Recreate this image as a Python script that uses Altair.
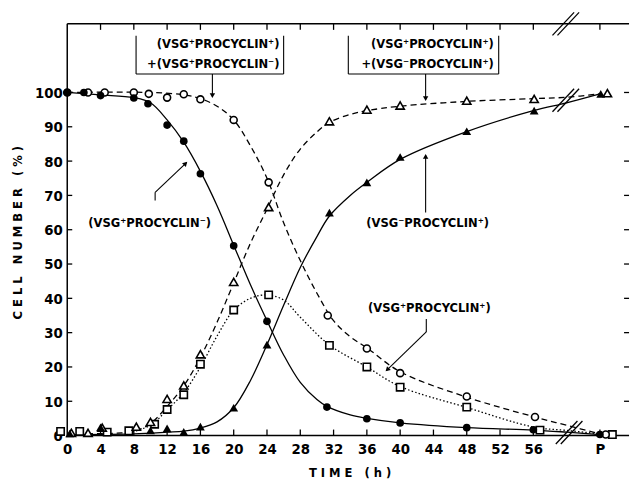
import altair as alt
import pandas as pd

# ---------------- data ----------------
# markers: time (h) and cell number (%)
fc_t = [0, 2, 4, 8, 9.7, 12, 14, 16, 20, 24, 31.2, 36, 40, 48, 56, 64]          # (VSG+ PROCYCLIN-) filled circles
fc_v = [100, 100, 99.1, 98.4, 96.7, 90.5, 85.8, 76.3, 55.3, 33.3, 8.3, 4.9, 3.7, 2.3, 1.7, 0.3]

oc_t = [0, 2.5, 4.5, 8, 9.8, 12, 14, 16, 20, 24.2, 31.3, 36, 40, 48, 56.2, 64.7]  # (VSG+P+)+(VSG+P-) open circles
oc_v = [100, 100, 100, 100, 99.6, 98.5, 99.5, 98.0, 92.0, 73.8, 35.0, 25.4, 18.2, 11.4, 5.4, 0.3]

ot_t = [0.5, 2.5, 4.2, 8.3, 10, 12, 14, 16, 20, 24.2, 31.5, 36, 40, 48, 56.1, 64.9]  # (VSG+P+)+(VSG-P+) open triangles
ot_v = [0.8, 0.8, 2.3, 2.6, 4.0, 10.7, 14.6, 23.7, 44.8, 66.6, 91.6, 95.0, 96.2, 97.6, 98.1, 99.8]

ft_t = [0.3, 4, 10, 12, 14, 16, 20, 24, 31.5, 36, 40, 48, 56.1, 64.1]            # (VSG- PROCYCLIN+) filled triangles
ft_v = [0.6, 2.4, 1.5, 2.1, 1.1, 2.6, 8.1, 26.5, 65.0, 73.8, 81.2, 88.7, 94.7, 99.6]

os_t = [-0.8, 1.5, 4.8, 7.4, 10.5, 12, 14, 16, 20, 24.2, 31.5, 36, 40, 48, 56.8, 65.5]  # (VSG+ PROCYCLIN+) open squares
os_v = [1.2, 1.2, 1.0, 1.4, 3.3, 7.6, 11.9, 20.8, 36.6, 41.0, 26.3, 20.0, 14.1, 8.3, 1.6, 0.3]

# drawn (hand-fitted) curves
fc_curve_t = [0, 4, 8, 10, 12, 14, 16, 18, 20, 22, 24, 26, 28, 30, 31.2, 34, 36, 40, 48, 56, 60, 64]
fc_curve_v = [100, 99.3, 98.5, 97.0, 92.0, 85.5, 77.0, 67.0, 55.5, 44.0, 33.5, 23.5, 15.5, 10.5, 8.5, 6.0, 5.0, 3.7, 2.3, 1.6, 1.0, 0.3]

ft_curve_t = [0, 8, 12, 14, 16, 18, 20, 22, 24, 26, 28, 30, 31.5, 34, 36, 40, 48, 56, 60, 64]
ft_curve_v = [0.3, 0.5, 1.0, 1.3, 2.2, 4.0, 8.1, 16.0, 26.5, 38.0, 49.0, 58.0, 64.0, 70.0, 73.8, 80.5, 88.6, 94.7, 97.0, 99.6]

oc_curve_t = [0, 10, 14, 16, 18, 20, 22, 24, 26, 28, 30, 32, 34, 36, 40, 48, 56.2, 60, 64]
oc_curve_v = [100, 100, 99.3, 98.2, 96.0, 92.0, 84.5, 75.0, 62.0, 51.0, 41.5, 33.5, 28.8, 25.6, 18.6, 11.2, 5.4, 3.0, 0.5]

ot_curve_t = [0, 6, 8, 10, 12, 14, 16, 18, 20, 22, 24, 26, 28, 30, 31.5, 34, 36, 40, 48, 56, 60, 64]
ot_curve_v = [0.5, 0.7, 1.2, 3.5, 8.5, 14.5, 22.8, 33.0, 44.5, 56.0, 66.0, 76.0, 83.5, 88.5, 91.3, 93.6, 94.7, 96.0, 97.4, 98.2, 98.6, 99.6]

os_curve_t = [7, 10, 12, 14, 16, 18, 20, 22, 24, 26, 28, 31.5, 36, 40, 48, 56, 60, 64]
os_curve_v = [0.6, 3.0, 7.5, 12.5, 20.0, 29.0, 36.5, 40.0, 41.0, 39.5, 34.5, 26.4, 20.0, 14.3, 8.2, 2.5, 1.5, 0.5]

# axes
x_ticks = [0, 4, 8, 12, 16, 20, 24, 28, 32, 36, 40, 44, 48, 52, 56, 64]   # 64 is shown as "P"
y_ticks = [0, 10, 20, 30, 40, 50, 60, 70, 80, 90, 100]
X_MAX, Y_MAX = 67.5, 120

# annotation texts (time, value, text)
box_text_t = [25.5, 25.5, 51.25, 51.25]
box_text_v = [114.0, 108.2, 114.0, 108.2]
box_text_s = ["(VSG⁺PROCYCLIN⁺)", "+(VSG⁺PROCYCLIN⁻)", "(VSG⁺PROCYCLIN⁺)", "+(VSG⁻PROCYCLIN⁺)"]

lab_t = [9.9, 43.3, 43.5]
lab_v = [61.8, 61.8, 37.3]
lab_s = ["(VSG⁺PROCYCLIN⁻)", "(VSG⁻PROCYCLIN⁺)", "(VSG⁺PROCYCLIN⁺)"]

# connector segments (x, y, x2, y2) in data units
seg_x = [8.27, 26.0, 8.27, 17.44, 33.77, 51.84, 33.77, 43.06, 10.56, 10.56, 43.06, 43.14, 43.14]
seg_y = [116.5, 116.5, 105.4, 105.4, 116.5, 116.5, 105.4, 105.4, 68.5, 70.9, 65.0, 34.0, 30.2]
seg_x2 = [8.27, 26.0, 26.0, 17.44, 33.77, 51.84, 51.84, 43.06, 10.56, 14.3, 43.06, 43.14, 38.4]
seg_y2 = [105.4, 105.4, 105.4, 98.8, 105.4, 105.4, 105.4, 97.9, 70.9, 79.5, 81.8, 30.2, 19.1]

# arrow heads (position, rotation)
head_t = [17.44, 43.06, 43.06, 14.22, 38.45]
head_v = [99.1, 98.2, 81.4, 79.3, 19.2]
head_a = [180, 180, 0, 45, 225]

# axis-break marks "//" (centre time, centre value)
brk_t = [59.9, 59.9, 60.3]
brk_v = [120.0, 97.75, 0.9]

# ---------------- chart ----------------
W, H = 569, 417
FONT = "DejaVu Sans Condensed, DejaVu Sans, sans-serif"
NB = "\u00a0"

x_title = NB.join("TIME") + NB * 3 + NB.join("(h)")
y_title = NB.join("CELL") + NB * 3 + NB.join("NUMBER") + NB * 3 + NB.join("(%)")

x_axis = alt.Axis(values=x_ticks, labelExpr="datum.value == 64 ? 'P' : datum.label",
                  title=x_title, domain=False, ticks=False, grid=False,
                  labelPadding=6, labelFont=FONT, labelFontSize=15, labelFontWeight="bold",
                  labelColor="black", titleFont=FONT, titleFontSize=13, titleFontWeight="bold",
                  titleColor="black", titleX=286, titleY=37, titleBaseline="middle", labelFlush=False)
y_axis = alt.Axis(values=y_ticks, title=y_title, domain=False, ticks=False,
                  grid=False, labelPadding=5, labelFont=FONT, labelFontSize=15, labelFontWeight="bold",
                  labelColor="black", titleFont=FONT, titleFontSize=13, titleFontWeight="bold",
                  titleColor="black", titleX=-50, titleY=211, titleBaseline="middle", labelFlush=False)


def X(f="t"):
    return alt.X(f"{f}:Q", scale=xs, axis=x_axis)


def Y(f="v"):
    return alt.Y(f"{f}:Q", scale=ys, axis=y_axis)


xs = alt.Scale(domain=[0, X_MAX], nice=False, zero=False)
ys = alt.Scale(domain=[0, Y_MAX], nice=False, zero=False)

layers = []

# frame lines
frame = pd.DataFrame({"x": [0, 0, 0], "x2": [X_MAX, 0, X_MAX], "y": [0, 0, Y_MAX], "y2": [0, Y_MAX, Y_MAX]})
layers.append(alt.Chart(frame).mark_rule(color="black", strokeWidth=1.5).encode(
    x=X("x"), x2="x2:Q", y=Y("y"), y2="y2:Q"))

# inward ticks
tx = [t for t in x_ticks if t > 0]
ty = [v for v in y_ticks if v > 0]
tick_rows = []
for t in tx:
    tick_rows.append({"x": t, "x2": t, "y": 0, "y2": 1.75})
    tick_rows.append({"x": t, "x2": t, "y": Y_MAX, "y2": Y_MAX - 1.75})
for v in ty:
    tick_rows.append({"x": 0, "x2": 0.6, "y": v, "y2": v})
    tick_rows.append({"x": X_MAX, "x2": X_MAX - 0.6, "y": v, "y2": v})
layers.append(alt.Chart(pd.DataFrame(tick_rows)).mark_rule(color="black", strokeWidth=1.3).encode(
    x=X("x"), x2="x2:Q", y=Y("y"), y2="y2:Q"))

# curves
curve_specs = [
    (fc_curve_t, fc_curve_v, None),
    (ft_curve_t, ft_curve_v, None),
    (oc_curve_t, oc_curve_v, [6, 4]),
    (ot_curve_t, ot_curve_v, [6, 4]),
    (os_curve_t, os_curve_v, [1.5, 2.2]),
]
for ct, cv, dash in curve_specs:
    kw = dict(color="black", strokeWidth=1.3, interpolate="catmull-rom")
    if dash is not None:
        kw["strokeDash"] = dash
    layers.append(alt.Chart(pd.DataFrame({"t": ct, "v": cv})).mark_line(**kw).encode(x=X(), y=Y()))

# break marks
brk_rows = []
for bt, bv in zip(brk_t, brk_v):
    for off in (-0.3, 0.3):
        brk_rows.append({"x": bt + off - 1.3, "y": bv - 3.35, "x2": bt + off + 1.3, "y2": bv + 3.35})
layers.append(alt.Chart(pd.DataFrame(brk_rows)).mark_rule(color="black", strokeWidth=1.3).encode(
    x=X("x"), x2="x2:Q", y=Y("y"), y2="y2:Q"))

# connectors
seg = pd.DataFrame({"x": seg_x, "y": seg_y, "x2": seg_x2, "y2": seg_y2})
layers.append(alt.Chart(seg).mark_rule(color="black", strokeWidth=1.1).encode(
    x=X("x"), x2="x2:Q", y=Y("y"), y2="y2:Q"))

heads = pd.DataFrame({"t": head_t, "v": head_v, "a": head_a})
layers.append(alt.Chart(heads).mark_point(shape="triangle-up", filled=True, color="black", size=30, opacity=1).encode(
    x=X(), y=Y(), angle=alt.Angle("a:Q", scale=None)))

# texts
layers.append(alt.Chart(pd.DataFrame({"t": box_text_t, "v": box_text_v, "s": box_text_s})).mark_text(
    font=FONT, fontSize=13, fontWeight="bold", align="right", baseline="middle", color="black").encode(
    x=X(), y=Y(), text="s:N"))
layers.append(alt.Chart(pd.DataFrame({"t": lab_t, "v": lab_v, "s": lab_s})).mark_text(
    font=FONT, fontSize=13, fontWeight="bold", align="center", baseline="middle", color="black").encode(
    x=X(), y=Y(), text="s:N"))


# markers
def open_marker(t, v, shape, size):
    return alt.Chart(pd.DataFrame({"t": t, "v": v})).mark_point(
        shape=shape, filled=True, fill="white", stroke="black", strokeWidth=1.6, size=size, opacity=1
    ).encode(x=X(), y=Y())


def filled_marker(t, v, shape, size):
    return alt.Chart(pd.DataFrame({"t": t, "v": v})).mark_point(
        shape=shape, filled=True, color="black", size=size, opacity=1
    ).encode(x=X(), y=Y())


layers.append(open_marker(os_t, os_v, "square", 55))
layers.append(open_marker(ot_t, ot_v, "triangle-up", 70))
layers.append(filled_marker(ft_t, ft_v, "triangle-up", 80))
layers.append(open_marker(oc_t, oc_v, "circle", 50))
layers.append(filled_marker(fc_t, fc_v, "circle", 60))

chart = alt.layer(*layers).properties(
    width=W, height=H,
    autosize=alt.AutoSizeParams(type="none"),
    padding={"left": 60, "top": 13, "right": 3, "bottom": 47},
).configure_view(stroke=None)

chart.save("out.html", embed_options={"renderer": "svg", "actions": False})
